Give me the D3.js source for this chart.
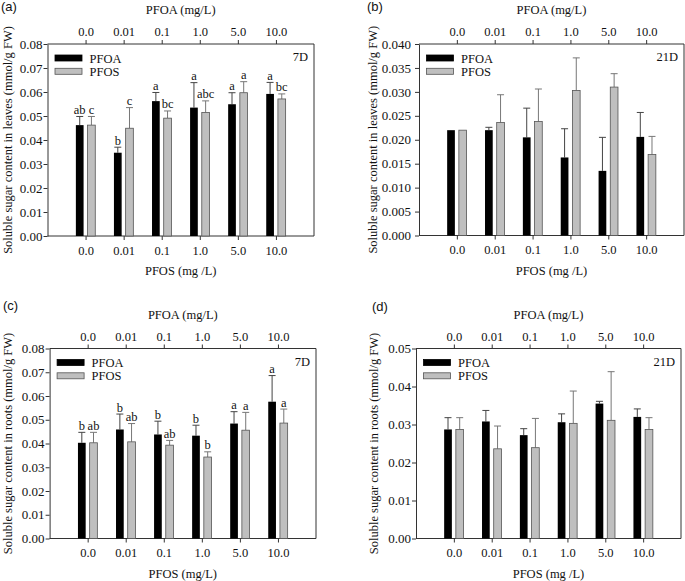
<!DOCTYPE html>
<html>
<head>
<meta charset="utf-8">
<script src="https://cdn.jsdelivr.net/npm/d3@7"></script>
<style>
  html, body { margin: 0; padding: 0; background: #fff; }
  svg { display: block; }
</style>
</head>
<body>
<svg id="chart" width="685" height="581"></svg>
<script>
// ---------------- DATA ----------------
const categories = ["0.0", "0.01", "0.1", "1.0", "5.0", "10.0"];
const seriesNames = ["PFOA", "PFOS"];

// (a) leaves, 7 D
const leaves7PFOA    = [0.0462, 0.0347, 0.0562, 0.0535, 0.0549, 0.0592];
const leaves7PFOAsd  = [0.0036, 0.0023, 0.0036, 0.0104, 0.0048, 0.0048];
const leaves7PFOS    = [0.0462, 0.0449, 0.0491, 0.0515, 0.0597, 0.0571];
const leaves7PFOSsd  = [0.0036, 0.0086, 0.0030, 0.0048, 0.0046, 0.0021];
const leaves7PFOAlet = ["ab", "b", "a", "a", "a", "a"];
const leaves7PFOSlet = ["c", "c", "bc", "abc", "a", "bc"];

// (b) leaves, 21 D
const leaves21PFOA   = [0.0220, 0.0220, 0.0205, 0.0163, 0.0135, 0.0206];
const leaves21PFOAsd = [0.0000, 0.0006, 0.0061, 0.0060, 0.0070, 0.0051];
const leaves21PFOS   = [0.0220, 0.0236, 0.0238, 0.0303, 0.0310, 0.0169];
const leaves21PFOSsd = [0.0000, 0.0058, 0.0068, 0.0068, 0.0028, 0.0038];

// (c) roots, 7 D
const roots7PFOA    = [0.0403, 0.0459, 0.0438, 0.0433, 0.0484, 0.0576];
const roots7PFOAsd  = [0.0044, 0.0065, 0.0056, 0.0044, 0.0050, 0.0110];
const roots7PFOS    = [0.0403, 0.0407, 0.0393, 0.0343, 0.0456, 0.0486];
const roots7PFOSsd  = [0.0044, 0.0077, 0.0020, 0.0022, 0.0075, 0.0059];
const roots7PFOAlet = ["b", "b", "b", "b", "a", "a"];
const roots7PFOSlet = ["ab", "ab", "ab", "b", "a", "a"];

// (d) roots, 21 D
const roots21PFOA   = [0.0287, 0.0308, 0.0272, 0.0306, 0.0355, 0.0320];
const roots21PFOAsd = [0.0031, 0.0029, 0.0017, 0.0022, 0.0006, 0.0021];
const roots21PFOS   = [0.0287, 0.0236, 0.0239, 0.0303, 0.0311, 0.0287];
const roots21PFOSsd = [0.0031, 0.0060, 0.0077, 0.0085, 0.0128, 0.0031];

// tick values
const yTicks008  = [0, 0.01, 0.02, 0.03, 0.04, 0.05, 0.06, 0.07, 0.08];
const yTicks0040 = [0, 0.005, 0.010, 0.015, 0.020, 0.025, 0.030, 0.035, 0.040];
const yTicks005  = [0, 0.01, 0.02, 0.03, 0.04, 0.05];

// ---------------- PANELS ----------------
const panels = [
  { tag: "(a)", tagX: 1, tagY: 11, period: "7D",
    frame: { l: 47.5, r: 314, t: 44, b: 236 }, yMax: 0.08, ticks: yTicks008, fmt: ".2f", yPad: 1,
    yTitle: "Soluble sugar content in leaves (mmol/g FW)", yTitleX: 12,
    xTitle: "PFOS (mg /L)",
    pfoa: leaves7PFOA, pfoaSd: leaves7PFOAsd, pfos: leaves7PFOS, pfosSd: leaves7PFOSsd,
    pfoaLet: leaves7PFOAlet, pfosLet: leaves7PFOSlet },
  { tag: "(b)", tagX: 367, tagY: 11, period: "21D",
    frame: { l: 419, r: 684, t: 44, b: 235.5 }, yMax: 0.04, ticks: yTicks0040, fmt: ".3f", yPad: 4,
    yTitle: "Soluble sugar content in leaves (mmol/g FW)", yTitleX: 377,
    xTitle: "PFOS (mg /L)",
    pfoa: leaves21PFOA, pfoaSd: leaves21PFOAsd, pfos: leaves21PFOS, pfosSd: leaves21PFOSsd,
    pfoaLet: null, pfosLet: null },
  { tag: "(c)", tagX: 3, tagY: 310, period: "7D",
    frame: { l: 49.6, r: 316, t: 348.5, b: 538.5 }, yMax: 0.08, ticks: yTicks008, fmt: ".2f", yPad: 1,
    yTitle: "Soluble sugar content in roots (mmol/g FW)", yTitleX: 12,
    xTitle: "PFOS (mg/L)",
    pfoa: roots7PFOA, pfoaSd: roots7PFOAsd, pfos: roots7PFOS, pfosSd: roots7PFOSsd,
    pfoaLet: roots7PFOAlet, pfosLet: roots7PFOSlet },
  { tag: "(d)", tagX: 372, tagY: 311, period: "21D",
    frame: { l: 416, r: 681, t: 348.5, b: 538.5 }, yMax: 0.05, ticks: yTicks005, fmt: ".2f", yPad: 1,
    yTitle: "Soluble sugar content in roots (mmol/g FW)", yTitleX: 378,
    xTitle: "PFOS (mg /L)",
    pfoa: roots21PFOA, pfoaSd: roots21PFOAsd, pfos: roots21PFOS, pfosSd: roots21PFOSsd,
    pfoaLet: null, pfosLet: null }
];

const SERIF = "'Liberation Serif', 'Times New Roman', serif";
const SANS = "'Liberation Sans', Arial, sans-serif";
const AXIS = "#333";
const GRAYFILL = "#bfbfbf";

const svg = d3.select("#chart");

panels.forEach(p => {
  const f = p.frame;
  const g = svg.append("g");

  const x = d3.scalePoint().domain(categories).range([f.l, f.r]).padding(1);
  const sub = d3.scaleBand().domain(seriesNames).range([-9.7, 9.7]).paddingInner(0.34);
  const y = d3.scaleLinear().domain([0, p.yMax]).range([f.b, f.t]);

  // frame right line
  g.append("line").attr("x1", f.r).attr("x2", f.r).attr("y1", f.t).attr("y2", f.b)
    .attr("stroke", AXIS).attr("stroke-width", 1);

  // axes
  const yAxis = g.append("g").attr("transform", `translate(${f.l},0)`)
    .call(d3.axisLeft(y).tickValues(p.ticks).tickFormat(d3.format(p.fmt)).tickSize(4).tickSizeOuter(0).tickPadding(p.yPad));
  const bAxis = g.append("g").attr("transform", `translate(0,${f.b})`)
    .call(d3.axisBottom(x).tickSize(4).tickSizeOuter(0).tickPadding(6));
  const tAxis = g.append("g").attr("transform", `translate(0,${f.t})`)
    .call(d3.axisTop(x).tickSize(4).tickSizeOuter(0).tickPadding(4));

  // extend top/bottom domain lines across full frame
  [yAxis, bAxis, tAxis].forEach(a => {
    a.select(".domain").attr("stroke", AXIS);
    a.selectAll(".tick line").attr("stroke", AXIS);
    a.selectAll("text").attr("fill", "#111").style("font-family", SERIF);
  });
  bAxis.select(".domain").attr("d", `M${f.l},0H${f.r}`);
  tAxis.select(".domain").attr("d", `M${f.l},0H${f.r}`);
  yAxis.selectAll("text").style("font-size", "13px");
  bAxis.selectAll("text").style("font-size", "12.5px");
  tAxis.selectAll("text").style("font-size", "12.5px");

  // titles
  g.append("text").attr("x", (f.l + f.r) / 2).attr("y", f.t - 30)
    .attr("text-anchor", "middle").style("font-family", SERIF).style("font-size", "12.5px").attr("fill", "#111")
    .text("PFOA (mg/L)");
  g.append("text").attr("x", (f.l + f.r) / 2).attr("y", f.b + 39)
    .attr("text-anchor", "middle").style("font-family", SERIF).style("font-size", "12.5px").attr("fill", "#111")
    .text(p.xTitle);
  g.append("text").attr("transform", `translate(${p.yTitleX},${(f.t + f.b) / 2}) rotate(-90)`)
    .attr("text-anchor", "middle").style("font-family", SERIF).style("font-size", "12.5px").attr("fill", "#111")
    .text(p.yTitle);

  // panel tag
  g.append("text").attr("x", p.tagX).attr("y", p.tagY)
    .style("font-family", SANS).style("font-size", "13px").attr("fill", "#111").text(p.tag);

  // period
  g.append("text").attr("x", f.r - 6).attr("y", f.t + 17)
    .attr("text-anchor", "end").style("font-family", SERIF).style("font-size", "12.5px").attr("fill", "#111")
    .text(p.period);

  // legend
  const leg = [
    { name: "PFOA", fill: "#000", stroke: "#000" },
    { name: "PFOS", fill: GRAYFILL, stroke: "#555" }
  ];
  leg.forEach((s, i) => {
    g.append("rect").attr("x", f.l + 7.5).attr("y", f.t + 11 + i * 13.3).attr("width", 27).attr("height", 6)
      .attr("fill", s.fill).attr("stroke", s.stroke).attr("stroke-width", 0.8);
    g.append("text").attr("x", f.l + 42).attr("y", f.t + 18.5 + i * 13.3)
      .style("font-family", SERIF).style("font-size", "12.5px").attr("fill", "#111").text(s.name);
  });

  // bars
  const series = [
    { name: "PFOA", vals: p.pfoa, sd: p.pfoaSd, let: p.pfoaLet, fill: "#000", stroke: "none", err: "#444" },
    { name: "PFOS", vals: p.pfos, sd: p.pfosSd, let: p.pfosLet, fill: GRAYFILL, stroke: "#555", err: "#777" }
  ];
  series.forEach(s => {
    const data = categories.map((c, i) => ({ c, v: s.vals[i], sd: s.sd[i], lt: s.let ? s.let[i] : null }));
    const bx = d => x(d.c) + sub(s.name);
    const cx = d => bx(d) + sub.bandwidth() / 2;
    // error bars (upper only)
    const eg = g.append("g");
    data.filter(d => d.sd > 0).forEach(d => {
      eg.append("line").attr("x1", cx(d)).attr("x2", cx(d)).attr("y1", y(d.v)).attr("y2", y(d.v + d.sd))
        .attr("stroke", s.err).attr("stroke-width", 1);
      eg.append("line").attr("x1", cx(d) - 3.5).attr("x2", cx(d) + 3.5).attr("y1", y(d.v + d.sd)).attr("y2", y(d.v + d.sd))
        .attr("stroke", s.err).attr("stroke-width", 1);
    });
    g.append("g").selectAll("rect").data(data).join("rect")
      .attr("x", bx).attr("width", sub.bandwidth())
      .attr("y", d => y(d.v)).attr("height", d => y(0) - y(d.v))
      .attr("fill", s.fill).attr("stroke", s.stroke).attr("stroke-width", 0.8);
    if (s.let) {
      g.append("g").selectAll("text").data(data).join("text")
        .attr("x", cx).attr("y", d => y(d.v + d.sd) - 2.5)
        .attr("text-anchor", "middle").style("font-family", SERIF).style("font-size", "12.5px").attr("fill", "#111")
        .text(d => d.lt);
    }
  });
});
</script>
</body>
</html>
